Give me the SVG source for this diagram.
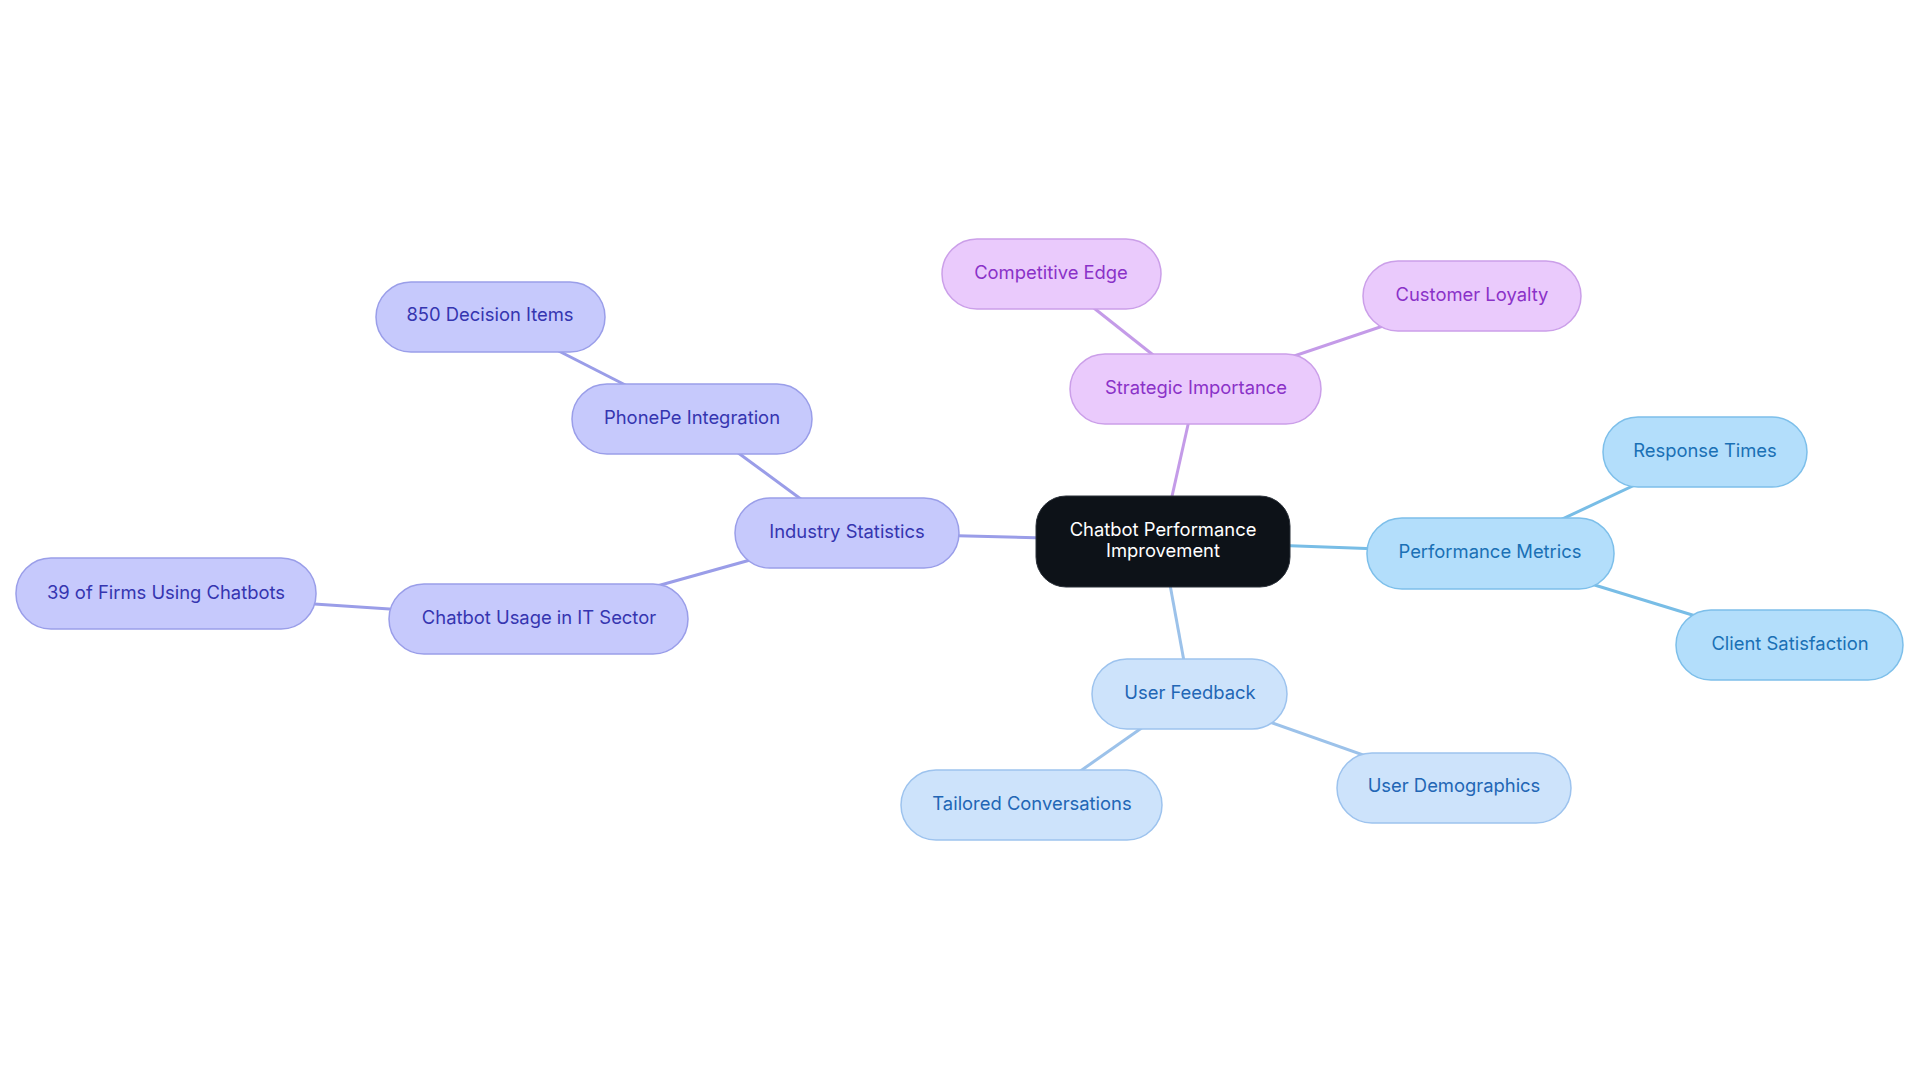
<svg xmlns="http://www.w3.org/2000/svg" width="1920" height="1083" viewBox="0 0 1920 1083">
<style>
text{font-family:Inter,"Liberation Sans",sans-serif;font-size:18.4px;text-anchor:middle;dominant-baseline:central}
.c rect{fill:#0d1218;stroke:#2a3038;stroke-width:1}
.c text{fill:#ffffff}
.i rect{fill:#c6c9fc;stroke:#9a9ee9;stroke-width:1.5}
.i text{fill:#3535b0}
.s rect{fill:#eacafc;stroke:#cb9fe9;stroke-width:1.5}
.s text{fill:#8a32c8}
.p rect{fill:#b3defb;stroke:#7dbfea;stroke-width:1.5}
.p text{fill:#1a70b5}
.u rect{fill:#cde3fb;stroke:#9dc3ee;stroke-width:1.5}
.u text{fill:#2266b5}
#connectors line{stroke-width:3;fill:none}
</style>
<rect width="1920" height="1083" fill="#ffffff"/>
<g id="connectors">
<line x1="1162" y1="541" x2="1196" y2="389" stroke="#c49be8"/>
<line x1="1196" y1="389" x2="1051" y2="274" stroke="#c49be8"/>
<line x1="1196" y1="389" x2="1472" y2="296" stroke="#c49be8"/>
<line x1="1162" y1="541" x2="1490" y2="553" stroke="#78bde6"/>
<line x1="1490" y1="553" x2="1705" y2="452" stroke="#78bde6"/>
<line x1="1490" y1="553" x2="1790" y2="645" stroke="#78bde6"/>
<line x1="1162" y1="541" x2="1190" y2="694" stroke="#9cc2ea"/>
<line x1="1190" y1="694" x2="1032" y2="805" stroke="#9cc2ea"/>
<line x1="1190" y1="694" x2="1454" y2="787" stroke="#9cc2ea"/>
<line x1="1162" y1="541" x2="847" y2="533" stroke="#9a9de8"/>
<line x1="847" y1="533" x2="692" y2="419" stroke="#9a9de8"/>
<line x1="692" y1="419" x2="490" y2="316" stroke="#9a9de8"/>
<line x1="847" y1="533" x2="539" y2="619" stroke="#9a9de8"/>
<line x1="539" y1="619" x2="166" y2="594" stroke="#9a9de8"/>
</g>
<g id="central" class="c"><rect x="1036" y="496" width="254" height="91" rx="30"/><text x="1163" y="529">Chatbot Performance</text><text x="1163" y="550">Improvement</text></g>
<g id="strategic" class="s"><rect x="1070" y="354" width="251" height="70" rx="35"/><text x="1196" y="387">Strategic Importance</text></g>
<g id="competitive" class="s"><rect x="942" y="239" width="219" height="70" rx="35"/><text x="1051" y="272">Competitive Edge</text></g>
<g id="loyalty" class="s"><rect x="1363" y="261" width="218" height="70" rx="35"/><text x="1472" y="294">Customer Loyalty</text></g>
<g id="metrics" class="p"><rect x="1367" y="518" width="247" height="71" rx="35"/><text x="1490" y="551">Performance Metrics</text></g>
<g id="response" class="p"><rect x="1603" y="417" width="204" height="70" rx="35"/><text x="1705" y="450">Response Times</text></g>
<g id="satisfaction" class="p"><rect x="1676" y="610" width="227" height="70" rx="35"/><text x="1790" y="643">Client Satisfaction</text></g>
<g id="feedback" class="u"><rect x="1092" y="659" width="195" height="70" rx="35"/><text x="1190" y="692">User Feedback</text></g>
<g id="tailored" class="u"><rect x="901" y="770" width="261" height="70" rx="35"/><text x="1032" y="803">Tailored Conversations</text></g>
<g id="demographics" class="u"><rect x="1337" y="753" width="234" height="70" rx="35"/><text x="1454" y="785">User Demographics</text></g>
<g id="industry" class="i"><rect x="735" y="498" width="224" height="70" rx="35"/><text x="847" y="531">Industry Statistics</text></g>
<g id="phonepe" class="i"><rect x="572" y="384" width="240" height="70" rx="35"/><text x="692" y="417">PhonePe Integration</text></g>
<g id="decision" class="i"><rect x="376" y="282" width="229" height="70" rx="35"/><text x="490" y="314">850 Decision Items</text></g>
<g id="usage" class="i"><rect x="389" y="584" width="299" height="70" rx="35"/><text x="539" y="617">Chatbot Usage in IT Sector</text></g>
<g id="firms" class="i"><rect x="16" y="558" width="300" height="71" rx="35"/><text x="166" y="592">39 of Firms Using Chatbots</text></g>
</svg>
